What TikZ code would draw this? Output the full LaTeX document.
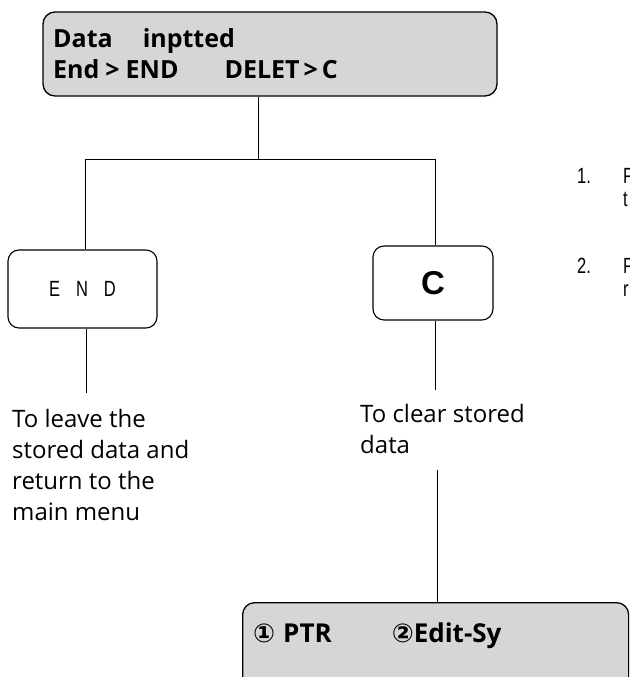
\documentclass[tikz,border=0pt]{standalone}
\usepackage{fontspec}
\setmainfont{Open Sans}
\newfontfamily\symf{DejaVu Sans}
\newfontfamily\narrowf[FakeStretch=0.75]{Liberation Sans}
\newfontfamily\helvf{Liberation Sans}
\begin{document}
\begin{tikzpicture}[x=1pt,y=-1pt,
  panel/.style={draw=black, line width=1.3pt, rounded corners=12pt, fill=black!16},
  keybox/.style={draw=black, line width=1.1pt, rounded corners=11pt, fill=white},
  wire/.style={draw=black, line width=1pt},
  note/.style={font=\fontsize{24}{31}\selectfont, align=left, anchor=north west, inner sep=0pt},
  side/.style={font=\narrowf\fontsize{22}{23}\selectfont, anchor=base west, inner sep=0pt}]
\clip (0,0) rectangle (629,677);
\fill[white] (0,0) rectangle (629,677);

% top panel
\node[panel, minimum width=454pt, minimum height=84pt] (top) at (270,54) {};
\node[anchor=north west, inner sep=0pt, align=left,
      font=\bfseries\fontsize{25}{31}\selectfont] (toptext) at (53,28)
      {Data\hspace{30pt}inptted\\End\hspace{6pt}>\hspace{6pt}END\hspace{46pt}DELET\hspace{4pt}>\hspace{4pt}C};

% key boxes
\node[keybox, minimum width=149pt, minimum height=78pt] (endk) at (82.5,289)
      {\narrowf\fontsize{22}{22}\selectfont E\hspace{16pt}N\hspace{16pt}D};
\node[keybox, minimum width=120pt, minimum height=74pt] (ck) at (433,283)
      {\helvf\bfseries\fontsize{33}{33}\selectfont C};

% bottom panel
\node[panel, minimum width=386pt, minimum height=110pt, anchor=north west] (bot) at (242,602) {};
\node[anchor=base west, inner sep=0pt, font=\bfseries\fontsize{26}{30}\selectfont] (bottext) at (253,642)
      {{\symf ①}\hspace{8pt}PTR\hspace{60pt}{\symf ②}Edit-Sy};

% connectors
\coordinate (j) at (258,159);
\coordinate (jl) at (85,159);
\coordinate (jr) at (435,159);
\draw[wire] (top.south -| j) -- (j);
\draw[wire] (jl) -- (jr);
\draw[wire] (jl) -- (endk.north -| jl);
\draw[wire] (jr) -- (ck.north -| jr);
\coordinate (e1) at (86,393);
\draw[wire] (endk.south -| e1) -- (e1);
\coordinate (c1) at (435,390);
\draw[wire] (ck.south -| c1) -- (c1);
\coordinate (c2) at (437,470);
\draw[wire] (c2) -- (bot.north -| c2);

% descriptions
\node[note] (leave) at (12,409) {To leave the\\stored data and\\return to the\\main menu};
\node[note] (clear) at (360,404) {To clear stored\\data};

% side notes, cut off at the right edge as in the reference
\node[side] (n1) at (577,183) {1.};
\node[side] (n1b) at (623,183) {P};
\node[side] (n1c) at (623,206) {t};
\node[side] (n2) at (577,273) {2.};
\node[side] (n2b) at (623,273) {P};
\node[side] (n2c) at (623,296) {r};
\end{tikzpicture}
\end{document}
